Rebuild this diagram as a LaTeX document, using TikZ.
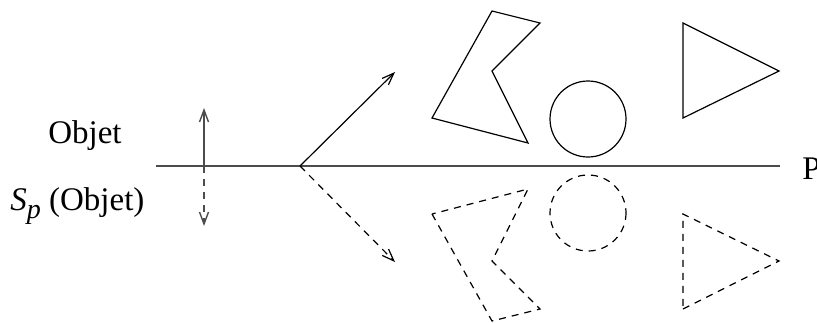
\documentclass[tikz,border=0pt]{standalone}
\usepackage{fontspec}
\setmainfont{Liberation Serif}
\usetikzlibrary{arrows.meta,positioning}
\tikzset{lbl/.style={font=\fontsize{16.5pt}{19pt}\selectfont,inner sep=0pt},
 orig/.style={line width=0.6pt},
 img/.style={line width=0.6pt,dash pattern=on 3.5pt off 3pt},
 ar/.style={-{Straight Barb[length=6pt,width=4.5pt]}},
 plane/.style={line width=0.7pt,black!70}}
\newcommand{\symp}{\textit{S}\raisebox{-0.55ex}{\fontsize{14pt}{16pt}\selectfont\textit{p}}}
\begin{document}
\begin{tikzpicture}[x=0.5pt,y=-0.5pt]
\useasboundingbox (0,0) rectangle (817,322);
\coordinate (pl) at (156,166);\coordinate (pr) at (780,166);\coordinate (v) at (204,166);\coordinate (o) at (300,166);
\coordinate (vu) at (204,108);\coordinate (vd) at (204,226);\coordinate (ou) at (395,72);\coordinate (od) at (395,262);
\draw[plane](pl)--(pr);
\node[lbl,anchor=base west](P) at (802,179){P};
\node[lbl,anchor=base](obj) at (85,143){Objet};
\node[lbl,anchor=base west](sym) at (10,210){\symp\ (Objet)};
\draw[plane,ar](v)--(vu);\draw[plane,ar,dash pattern=on 3.5pt off 3pt](v)--(vd);
\draw[orig,ar](o)--(ou);\draw[img,ar](o)--(od);
% objects above the plane
\draw[orig](432,118)--(492,11)--(540,23)--(492,71)--(528,143)--cycle;
\draw[orig](588,119) circle[radius=38];
\draw[orig](683,23)--(779,71)--(683,118)--cycle;
% their images below the plane
\draw[img](432,214)--(492,321)--(540,309)--(492,261)--(528,189)--cycle;
\draw[img](588,213) circle[radius=38];
\draw[img](683,309)--(779,261)--(683,214)--cycle;
\end{tikzpicture}
\end{document}
